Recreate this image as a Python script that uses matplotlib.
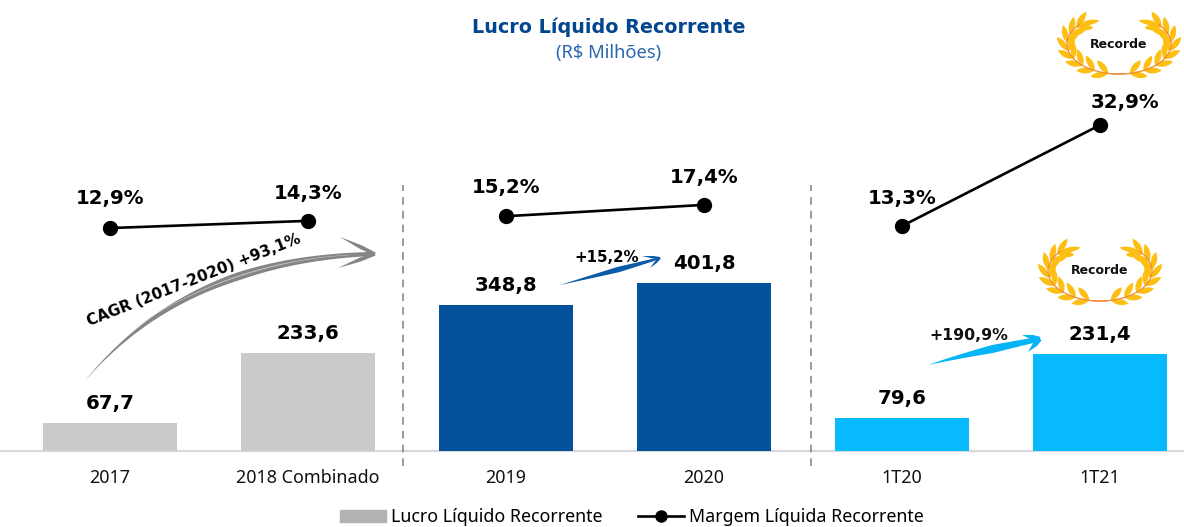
import numpy as np
import matplotlib
matplotlib.use('Agg')
import matplotlib.pyplot as plt
from matplotlib.patches import Patch
from matplotlib.lines import Line2D

plt.rcParams['font.family'] = ['Noto Sans', 'DejaVu Sans']
BOLD = 'DejaVu Sans'

categories = ['2017', '2018 Combinado', '2019', '2020', '1T20', '1T21']
lucro = [67.7, 233.6, 348.8, 401.8, 79.6, 231.4]
margem = [12.9, 14.3, 15.2, 17.4, 13.3, 32.9]
bar_colors = ['#cbcbcb', '#cbcbcb', '#04529c', '#04529c', '#07b9fd', '#07b9fd']
lucro_labels = ['67,7', '233,6', '348,8', '401,8', '79,6', '231,4']
margem_labels = ['12,9%', '14,3%', '15,2%', '17,4%', '13,3%', '32,9%']
line_groups = [(0, 1), (2, 3), (4, 5)]

W, H = 1184, 527
fig = plt.figure(figsize=(W / 100, H / 100), dpi=100)

# bars, 198 px per category, 0.418 px per R$ mi, baseline at y=451 px
ax = fig.add_axes([0, 0, 1, 1])
x = np.arange(len(categories))
ax.bar(x, lucro, width=0.672, color=bar_colors, zorder=2)
ax.set_xlim(-110 / 198, (W - 110) / 198)
ax.set_ylim(-(H - 451) / 0.418, 451 / 0.418)
ax.set_xticks(x)
ax.set_xticklabels(categories, fontsize=12.9, color='#111111')
ax.tick_params(axis='x', length=0, pad=-41.5, direction='in')
for s in ax.spines.values():
    s.set_visible(False)
ax.axhline(0, color='#d9d9d9', lw=1.6, zorder=1)
for i in range(len(x)):
    ax.annotate(lucro_labels[i], (x[i], lucro[i]), xytext=(0, 14), textcoords='offset points',
                ha='center', va='center', fontsize=14.2, fontweight='bold', family=BOLD, color='black')
for xsep in [1.48, 3.54]:
    ax.plot([xsep, xsep], [-36, 637], color='#7f7f7f', lw=1.1, ls=(0, (5, 4)), zorder=1)

# margin line on its own scale, 5.15 px per point
ax2 = ax.twinx()
ax2.set_ylim(-(H - 294.5) / 5.15, 294.5 / 5.15)
ax2.axis('off')
ax.tick_params(axis='y', left=False, labelleft=False, right=False, labelright=False)
for a, b in line_groups:
    ax2.plot(x[[a, b]], [margem[a], margem[b]], color='black', lw=1.9, marker='o', ms=10, zorder=3)
label_offsets = [(0, 21), (0, 20), (0, 21), (0, 20), (0, 20), (18, 16)]
for i in range(len(x)):
    ax2.annotate(margem_labels[i], (x[i], margem[i]), xytext=label_offsets[i], textcoords='offset points',
                 ha='center', va='center', fontsize=14.2, fontweight='bold', family=BOLD, color='black')

# overlay in pixels for the decorations
ov = fig.add_axes([0, 0, 1, 1], facecolor='none')
ov.set_xlim(0, W)
ov.set_ylim(H, 0)
ov.axis('off')


def brush(p0, p1, p2, p3, wmax, color, tail=0.35):
    # tapered stroke along a bezier
    t = np.linspace(0, 1, 80)[:, None]
    p0, p1, p2, p3 = [np.array(p, float) for p in (p0, p1, p2, p3)]
    c = (1 - t) ** 3 * p0 + 3 * (1 - t) ** 2 * t * p1 + 3 * (1 - t) * t ** 2 * p2 + t ** 3 * p3
    d = np.gradient(c, axis=0)
    n = np.c_[-d[:, 1], d[:, 0]] / np.hypot(d[:, 0], d[:, 1])[:, None]
    w = wmax * np.minimum(t[:, 0] / 0.6, 1) * (1 - (1 - tail) * np.maximum(t[:, 0] - 0.6, 0) / 0.4) / 2
    poly = np.r_[c + n * w[:, None], (c - n * w[:, None])[::-1]]
    ov.fill(poly[:, 0], poly[:, 1], color=color, lw=0, zorder=5)


def arrow_head(tip, a, b, wmax, color):
    tip = np.array(tip, float)
    for q in (a, b):
        q = np.array(q, float)
        brush(q, q + (tip - q) * 0.33, q + (tip - q) * 0.66, tip, wmax, color, tail=0.8)


brush((84, 382), (155, 297), (250, 258), (372, 254), 8, '#858585', tail=0.5)
brush((125, 335), (175, 297), (255, 260), (350, 255), 1.2, '#c4c4c4')
arrow_head((375, 254), (340, 237), (338, 268), 4, '#858585')

brush((560, 285), (590, 277), (625, 268), (660, 258), 5.5, '#0a5aa8')
arrow_head((660, 258), (642, 256), (650, 268), 2.5, '#0a5aa8')

brush((928, 365), (960, 356), (1000, 347), (1040, 339), 8, '#07b4f5', tail=0.6)
arrow_head((1040, 339), (1022, 335), (1028, 352), 5, '#07b4f5')


def leaf(cx, cy, ang, length, width):
    t = np.linspace(0, 1, 14)
    u = length * t
    v = width / 2 * np.sin(np.pi * t) ** 0.8
    xs = np.r_[u, u[::-1]]
    ys = np.r_[v, -v[::-1]]
    ca, sa = np.cos(ang), np.sin(ang)
    ov.fill(cx + xs * ca - ys * sa, cy + xs * sa + ys * ca, color='#fdbf14', lw=0, zorder=5)


def wreath(cx, cy):
    a, b = 52, 30
    for sign in (-1, 1):
        th = np.radians(np.linspace(82, 221, 50))
        ov.plot(cx - sign * a * np.cos(th), cy + b * np.sin(th), color='#f08a35', lw=0.9, zorder=6)
        for deg in np.linspace(102, 215, 8):
            r = np.radians(deg)
            px = cx - sign * a * np.cos(r)
            py = cy + b * np.sin(r)
            # heading toward the tip of the branch
            base = np.arctan2(b * np.cos(r), sign * a * np.sin(r))
            leaf(px, py, base + sign * 0.3, 18, 6)
            leaf(px, py, base - sign * 0.75, 17, 6)
        r = np.radians(221)
        leaf(cx - sign * a * np.cos(r), cy + b * np.sin(r),
             np.arctan2(b * np.cos(r), sign * a * np.sin(r)) - sign * 0.4, 20, 5)
    ov.text(cx, cy, 'Recorde', ha='center', va='center', fontsize=9, fontweight='bold', family=BOLD,
            color='#111111', zorder=7)


wreath(1119, 44)
wreath(1100, 271)

ov.text(609, 27, 'Lucro Líquido Recorrente', ha='center', va='center', fontsize=13.8, fontweight='bold',
        family=BOLD, color='#03468f')
ov.text(609, 53, '(R$ Milhões)', ha='center', va='center', fontsize=13.2, color='#2a67ae')
ov.text(194, 280, 'CAGR (2017-2020) +93,1%', ha='center', va='center', rotation=21.5, rotation_mode='anchor',
        fontsize=11, fontweight='bold', family=BOLD, color='black', zorder=6)
ov.text(607, 257, '+15,2%', ha='center', va='center', fontsize=10.8, fontweight='bold', family=BOLD,
        color='black', zorder=6)
ov.text(969, 336, '+190,9%', ha='center', va='center', fontsize=11.3, fontweight='bold', family=BOLD,
        color='#111111', zorder=6)

handles = [Patch(color='#b2b2b2', label='Lucro Líquido Recorrente'),
           Line2D([], [], color='black', lw=1.9, marker='o', ms=8, label='Margem Líquida Recorrente')]
ov.legend(handles=handles, loc='center', bbox_to_anchor=(632 / W, 1 - 517 / H), ncol=2, frameon=False,
          fontsize=12.8, handlelength=2.6, handletextpad=0.28, columnspacing=2.0, borderpad=0)

fig.savefig('out.png', dpi=100)
